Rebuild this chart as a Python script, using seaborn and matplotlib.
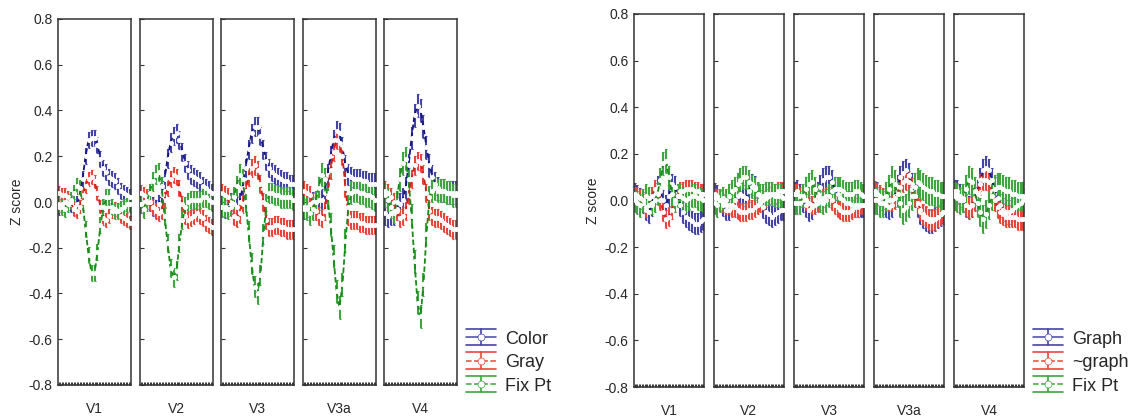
import numpy as np
import pandas as pd
import matplotlib
matplotlib.use("Agg")
import matplotlib.pyplot as plt
import seaborn as sns
from matplotlib.lines import Line2D
from matplotlib.legend_handler import HandlerBase
from matplotlib.ticker import MultipleLocator

# ---------------- data ----------------
regions = ["V1", "V2", "V3", "V3a", "V4"]
yticks = [-0.8, -0.6, -0.4, -0.2, 0.0, 0.2, 0.4, 0.6, 0.8]
ytick_labels = ["-0.8", "-0.6", "-0.4", "-0.2", "0.0", "0.2", "0.4", "0.6", "0.8"]
left_conditions = ["Color", "Gray", "Fix Pt"]
right_conditions = ["Graph", "~graph", "Fix Pt"]
n_points = 25

# Left group (Color / Gray / Fix Pt)
color_V1 = [-0.02,-0.01,0.00,0.00,-0.01,-0.02,-0.01,0.02,0.10,0.20,0.27,0.28,0.28,0.25,0.19,0.15,0.13,0.11,0.10,0.09,0.07,0.05,0.04,0.03,0.02]
gray_V1 = [0.04,0.03,0.03,0.02,0.00,-0.03,-0.04,-0.02,0.03,0.07,0.10,0.11,0.09,0.04,-0.02,-0.07,-0.08,-0.06,-0.04,-0.03,-0.04,-0.06,-0.07,-0.08,-0.09]
fix_V1 = [-0.01,-0.02,-0.03,-0.01,0.01,0.04,0.07,0.06,0.00,-0.12,-0.23,-0.31,-0.31,-0.22,-0.10,-0.02,0.02,0.02,-0.02,-0.04,-0.04,-0.03,-0.02,-0.01,-0.01]

color_V2 = [-0.01,0.00,0.01,0.00,-0.02,-0.03,-0.01,0.03,0.10,0.19,0.26,0.29,0.30,0.27,0.22,0.17,0.14,0.12,0.11,0.10,0.09,0.07,0.06,0.05,0.04]
gray_V2 = [0.04,0.03,0.02,0.00,-0.02,-0.04,-0.05,-0.04,0.01,0.06,0.10,0.12,0.11,0.06,-0.01,-0.06,-0.08,-0.07,-0.06,-0.05,-0.06,-0.07,-0.09,-0.10,-0.11]
fix_V2 = [-0.01,-0.03,0.00,0.04,0.09,0.12,0.13,0.07,-0.06,-0.18,-0.29,-0.33,-0.30,-0.18,-0.08,-0.02,0.00,0.01,0.01,0.01,0.01,0.02,0.02,0.01,0.00]

color_V3 = [-0.02,-0.03,-0.02,0.00,-0.01,-0.02,0.00,0.06,0.15,0.23,0.30,0.33,0.33,0.29,0.23,0.18,0.15,0.13,0.12,0.11,0.10,0.09,0.09,0.08,0.08]
gray_V3 = [0.04,0.03,0.02,-0.02,-0.06,-0.07,-0.05,-0.01,0.05,0.11,0.15,0.16,0.14,0.08,0.00,-0.08,-0.11,-0.11,-0.10,-0.10,-0.11,-0.11,-0.12,-0.12,-0.12]
fix_V3 = [-0.02,-0.02,-0.03,-0.01,0.02,0.07,0.12,0.10,0.00,-0.13,-0.27,-0.37,-0.40,-0.32,-0.14,-0.01,0.04,0.04,0.03,0.03,0.02,0.02,0.02,0.02,0.01]

color_V3a = [-0.03,-0.02,-0.01,0.00,0.00,0.01,0.01,0.04,0.12,0.20,0.27,0.31,0.30,0.24,0.16,0.12,0.11,0.10,0.10,0.10,0.09,0.09,0.08,0.08,0.08]
gray_V3a = [0.05,0.04,0.03,0.00,-0.04,-0.06,-0.07,-0.04,0.04,0.14,0.22,0.27,0.26,0.20,0.06,-0.06,-0.08,-0.08,-0.08,-0.09,-0.09,-0.10,-0.10,-0.10,-0.10]
fix_V3a = [-0.02,-0.03,-0.05,-0.03,0.00,0.06,0.12,0.10,0.02,-0.10,-0.24,-0.39,-0.46,-0.36,-0.17,-0.02,0.04,0.05,0.05,0.04,0.04,0.03,0.03,0.02,0.01]

color_V4 = [-0.05,-0.06,-0.05,-0.05,-0.03,-0.01,0.01,0.06,0.16,0.28,0.38,0.42,0.40,0.33,0.24,0.16,0.11,0.08,0.06,0.05,0.05,0.04,0.04,0.04,0.04]
gray_V4 = [0.05,0.04,0.02,0.00,-0.04,-0.07,-0.06,-0.04,0.03,0.10,0.16,0.18,0.17,0.12,0.04,-0.04,-0.06,-0.07,-0.07,-0.08,-0.09,-0.10,-0.11,-0.12,-0.12]
fix_V4 = [0.03,0.01,-0.02,-0.04,0.00,0.10,0.17,0.19,0.10,-0.06,-0.26,-0.44,-0.50,-0.36,-0.14,0.02,0.05,0.06,0.05,0.05,0.05,0.04,0.04,0.03,0.03]

# Right group (Graph / ~graph / Fix Pt)
graph_V1 = [0.03,0.02,0.01,-0.01,-0.04,-0.05,-0.02,0.03,0.06,0.04,0.00,-0.02,0.02,0.07,0.06,0.02,-0.02,-0.05,-0.07,-0.08,-0.09,-0.10,-0.10,-0.09,-0.08]
notgraph_V1 = [0.02,0.02,0.01,-0.01,-0.03,-0.02,0.02,0.05,0.04,0.00,-0.05,-0.08,-0.07,-0.04,-0.01,0.02,0.04,0.04,0.05,0.05,0.05,0.04,0.04,0.03,0.03]
fixg_V1 = [0.00,-0.01,-0.02,0.00,0.02,0.01,-0.01,0.00,0.03,0.09,0.16,0.17,0.10,0.03,0.00,0.02,0.02,0.01,0.00,0.01,0.02,0.02,0.01,0.01,0.00]

graph_V2 = [0.03,0.02,0.00,-0.02,-0.04,-0.04,-0.02,0.00,0.02,0.03,0.02,0.01,0.04,0.07,0.06,0.03,0.00,-0.03,-0.05,-0.06,-0.07,-0.06,-0.05,-0.04,-0.04]
notgraph_V2 = [0.01,0.01,0.00,-0.01,-0.02,-0.02,-0.03,-0.03,-0.04,-0.05,-0.05,-0.05,-0.04,-0.04,-0.03,-0.02,-0.01,0.00,0.01,0.02,0.03,0.03,0.04,0.04,0.04]
fixg_V2 = [-0.01,-0.02,0.00,0.01,0.00,0.02,0.04,0.05,0.07,0.09,0.10,0.10,0.08,0.06,0.05,0.03,0.02,0.02,0.03,0.03,0.03,0.02,0.02,0.02,0.01]

graph_V3 = [0.03,0.04,0.02,0.00,-0.02,-0.04,-0.03,0.00,0.03,0.06,0.09,0.10,0.10,0.08,0.05,0.03,0.01,0.00,-0.01,-0.01,-0.02,-0.02,-0.02,-0.02,-0.02]
notgraph_V3 = [0.03,0.03,0.02,0.01,0.00,-0.01,-0.02,-0.02,-0.01,0.00,0.01,0.02,0.02,0.00,-0.02,-0.03,-0.04,-0.05,-0.05,-0.05,-0.04,-0.03,-0.03,-0.02,-0.02]
fixg_V3 = [-0.01,-0.01,-0.01,0.02,0.05,0.07,0.08,0.05,0.02,0.00,-0.01,0.00,0.02,0.04,0.05,0.05,0.05,0.04,0.03,0.03,0.03,0.04,0.04,0.03,0.02]

graph_V3a = [0.03,0.03,0.01,-0.01,-0.02,-0.03,-0.02,0.02,0.06,0.10,0.12,0.13,0.11,0.07,0.02,-0.02,-0.05,-0.07,-0.08,-0.09,-0.09,-0.08,-0.07,-0.06,-0.05]
notgraph_V3a = [0.04,0.03,0.02,0.01,0.00,0.00,0.00,0.01,0.03,0.06,0.08,0.09,0.08,0.05,0.02,-0.01,-0.04,-0.06,-0.07,-0.08,-0.08,-0.08,-0.07,-0.06,-0.05]
fixg_V3a = [0.00,0.00,-0.01,-0.01,0.02,0.05,0.09,0.07,0.03,-0.01,-0.04,-0.03,-0.01,0.02,0.06,0.08,0.07,0.06,0.05,0.04,0.04,0.03,0.03,0.02,0.02]

graph_V4 = [0.04,0.04,0.02,0.00,-0.02,-0.03,-0.02,0.01,0.04,0.09,0.13,0.14,0.13,0.09,0.05,0.01,-0.02,-0.04,-0.05,-0.05,-0.04,-0.03,-0.02,-0.01,0.00]
notgraph_V4 = [0.03,0.03,0.01,0.00,-0.02,-0.03,-0.02,0.00,0.03,0.07,0.09,0.09,0.08,0.04,0.00,-0.03,-0.05,-0.06,-0.07,-0.07,-0.07,-0.07,-0.08,-0.08,-0.08]
fixg_V4 = [0.02,0.01,0.00,0.01,0.05,0.09,0.08,0.04,-0.01,-0.05,-0.08,-0.06,-0.02,0.02,0.05,0.06,0.06,0.05,0.04,0.04,0.03,0.03,0.02,0.02,0.02]

# standard errors (one value per region)
se_color = [0.035, 0.04, 0.04, 0.045, 0.05]
se_gray = [0.03, 0.035, 0.04, 0.04, 0.04]
se_fix = [0.035, 0.04, 0.045, 0.05, 0.05]
se_graph = [0.045, 0.045, 0.05, 0.05, 0.05]
se_notgraph = [0.04, 0.04, 0.04, 0.045, 0.045]
se_fixg = [0.05, 0.05, 0.05, 0.06, 0.06]

# ---------------- tidy table ----------------
left_series = {
    "Color": [color_V1, color_V2, color_V3, color_V3a, color_V4],
    "Gray": [gray_V1, gray_V2, gray_V3, gray_V3a, gray_V4],
    "Fix Pt": [fix_V1, fix_V2, fix_V3, fix_V3a, fix_V4],
}
left_se = {"Color": se_color, "Gray": se_gray, "Fix Pt": se_fix}
right_series = {
    "Graph": [graph_V1, graph_V2, graph_V3, graph_V3a, graph_V4],
    "~graph": [notgraph_V1, notgraph_V2, notgraph_V3, notgraph_V3a, notgraph_V4],
    "Fix Pt": [fixg_V1, fixg_V2, fixg_V3, fixg_V3a, fixg_V4],
}
right_se = {"Graph": se_graph, "~graph": se_notgraph, "Fix Pt": se_fixg}

rows = []
for grp, series, ses in (("left", left_series, left_se), ("right", right_series, right_se)):
    for cond, per_region in series.items():
        for r, reg in enumerate(regions):
            for t, z in enumerate(per_region[r]):
                rows.append(dict(group=grp, cond=cond, region=reg, t=t, z=z, se=ses[cond][r]))
df = pd.DataFrame(rows)

# ---------------- style ----------------
sns.set_theme(style="white")
plt.rcParams["font.family"] = ["Liberation Sans", "DejaVu Sans"]
plt.rcParams["axes.edgecolor"] = "#333333"
plt.rcParams["axes.linewidth"] = 1.1

W, H = 1136, 419
fig = plt.figure(figsize=(W / 100, H / 100), dpi=100)
fig.patch.set_facecolor("white")

palette = {
    "left": {"Color": ("#16167f", "#4444a6"), "Gray": ("#cc2219", "#e9463b"), "Fix Pt": ("#1a8a1a", "#3ea63e")},
    "right": {"Graph": ("#16167f", "#4444a6"), "~graph": ("#cc2219", "#e9463b"), "Fix Pt": ("#1a8a1a", "#3ea63e")},
}
legend_ls = {"Color": "-", "Gray": (0, (3, 2)), "Graph": "-", "~graph": (0, (3, 2)), "Fix Pt": (0, (5, 2.5))}

layout = {
    "left": dict(lefts=[58, 140, 221, 303, 384], width=73, top=19, bottom=385),
    "right": dict(lefts=[634, 714, 794, 874, 954], width=70, top=14, bottom=387),
}
conds = {"left": left_conditions, "right": right_conditions}


class HandlerErr(HandlerBase):
    def create_artists(self, legend, orig_handle, xdescent, ydescent, width, height, fontsize, trans):
        c = orig_handle.get_color()
        ls = orig_handle.get_linestyle()
        x0, x1 = -xdescent, width - xdescent
        xm = (x0 + x1) / 2
        yc = (height - ydescent) / 2
        half = fontsize * 0.45
        arts = [
            Line2D([x0, x1], [yc + half, yc + half], color=c, lw=1.2),
            Line2D([x0, x1], [yc - half, yc - half], color=c, lw=1.2),
            Line2D([x0, x1], [yc, yc], color=c, lw=1.1, linestyle=ls),
            Line2D([xm, xm], [yc - half, yc + half], color=c, lw=1.2),
            Line2D([xm], [yc], marker="o", markersize=5, markerfacecolor="white",
                   markeredgecolor=c, markeredgewidth=0.5, linestyle="none"),
        ]
        for a in arts:
            a.set_transform(trans)
        return arts


for grp in ("left", "right"):
    L = layout[grp]
    axes = []
    for r, reg in enumerate(regions):
        x0 = L["lefts"][r]
        ax = fig.add_axes([x0 / W, 1 - L["bottom"] / H, L["width"] / W, (L["bottom"] - L["top"]) / H])
        axes.append(ax)
        for cond in conds[grp]:
            sub = df[(df.group == grp) & (df.region == reg) & (df.cond == cond)]
            dark, light = palette[grp][cond]
            ax.errorbar(sub["t"], sub["z"], yerr=sub["se"], fmt="none", ecolor=light,
                        elinewidth=1.5, capsize=1.0, capthick=0.8, zorder=2)
        for cond in conds[grp]:
            sub = df[(df.group == grp) & (df.region == reg) & (df.cond == cond)]
            dark, light = palette[grp][cond]
            sns.lineplot(data=sub, x="t", y="z", ax=ax, color=dark, linewidth=1.3,
                         linestyle=(0, (3, 1.5)), marker="o", markersize=3.6,
                         markerfacecolor="white", markeredgewidth=0, errorbar=None,
                         legend=False, zorder=3)
        ax.set_xlim(-0.2, n_points - 1 + 0.2)
        ax.set_ylim(-0.8, 0.8)
        ax.set_yticks(yticks)
        ax.xaxis.set_major_locator(MultipleLocator(1))
        ax.xaxis.set_minor_locator(MultipleLocator(0.5))
        ax.tick_params(axis="x", which="both", direction="in", length=2.5, width=0.7,
                       bottom=True, top=False, labelbottom=False, color="#333333")
        ax.tick_params(axis="y", direction="in", length=3, width=0.8, left=True,
                       right=False, color="#333333", labelsize=10, pad=4)
        if r == 0:
            ax.set_yticklabels(ytick_labels)
            ax.set_ylabel("Z score", fontsize=10, labelpad=3)
        else:
            ax.set_yticklabels([])
            ax.set_ylabel("")
        ax.set_xlabel(reg, fontsize=10, labelpad=12)
        for s in ax.spines.values():
            s.set_visible(True)
            s.set_color("#333333")
            s.set_linewidth(1.1)

    handles = [Line2D([], [], color=palette[grp][c][1], linestyle=legend_ls[c]) for c in conds[grp]]
    lx = 466 if grp == "left" else 1033
    axes[-1].legend(handles, conds[grp], handler_map={Line2D: HandlerErr()},
                    loc="upper left", bbox_to_anchor=(lx / W, 1 - 330 / H),
                    bbox_transform=fig.transFigure, frameon=False, fontsize=13,
                    handlelength=1.65, handletextpad=0.5, labelspacing=0.33,
                    borderpad=0, borderaxespad=0, handleheight=0.9)

fig.savefig("out.png", dpi=100, facecolor="white")
